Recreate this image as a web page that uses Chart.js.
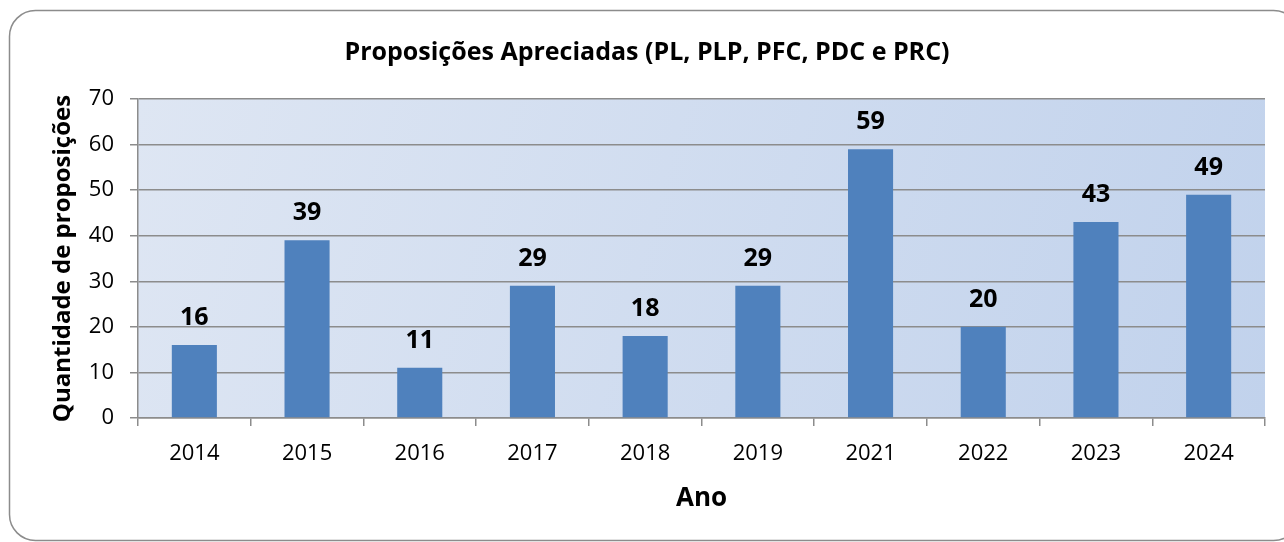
<!DOCTYPE html>
<html>
<head>
<meta charset="utf-8">
<script src="https://cdn.jsdelivr.net/npm/chart.js@4.4.0/dist/chart.umd.min.js"></script>
<style>
  html, body { margin: 0; padding: 0; background: #fff; }
  #wrap { width: 1284px; height: 542px; }
</style>
</head>
<body>
<div id="wrap"><canvas id="myChart" width="1284" height="542"></canvas></div>
<script>
var anos = ['2014', '2015', '2016', '2017', '2018', '2019', '2021', '2022', '2023', '2024'];
var quantidades = [16, 39, 11, 29, 18, 29, 59, 20, 43, 49];
var tituloGrafico = 'Proposições Apreciadas (PL, PLP, PFC, PDC e PRC)';
var tituloY = 'Quantidade de proposições';
var tituloX = 'Ano';

var FONTE = "'Open Sans', 'Liberation Sans', sans-serif";

// moldura arredondada + fundo em degrade da area do grafico
var fundoPlugin = {
  id: 'fundo',
  beforeDraw: function(chart) {
    var c = chart.ctx, a = chart.chartArea;
    c.save();
    c.fillStyle = '#fff';
    c.fillRect(0, 0, chart.width, chart.height);
    var x = 9.5, y = 10.5, w = 1290, h = 530, r = 26;
    c.beginPath();
    c.moveTo(x + r, y);
    c.lineTo(x + w - r, y);
    c.arcTo(x + w, y, x + w, y + r, r);
    c.lineTo(x + w, y + h - r);
    c.arcTo(x + w, y + h, x + w - r, y + h, r);
    c.lineTo(x + r, y + h);
    c.arcTo(x, y + h, x, y + h - r, r);
    c.lineTo(x, y + r);
    c.arcTo(x, y, x + r, y, r);
    c.closePath();
    c.strokeStyle = '#8c8c8c';
    c.lineWidth = 1.5;
    c.stroke();
    var g = c.createLinearGradient(a.left, a.top, a.right, a.bottom);
    g.addColorStop(0, '#dee6f3');
    g.addColorStop(1, '#c1d2ec');
    c.fillStyle = g;
    c.fillRect(a.left, a.top, a.right - a.left, a.bottom - a.top);
    c.restore();
  },
  afterDraw: function(chart) {
    var c = chart.ctx, a = chart.chartArea;
    c.save();
    c.fillStyle = '#000';
    c.textAlign = 'center';
    c.textBaseline = 'middle';
    c.font = 'bold 25px ' + FONTE;
    c.fillText(tituloGrafico, 647, 53);
    c.font = 'bold 26px ' + FONTE;
    c.fillText(tituloX, (a.left + a.right) / 2, 499);
    c.translate(63, (a.top + a.bottom) / 2);
    c.rotate(-Math.PI / 2);
    c.font = 'bold 24px ' + FONTE;
    c.fillText(tituloY, 0, 0);
    c.restore();

    // rotulos de dados
    var meta = chart.getDatasetMeta(0);
    c.save();
    c.fillStyle = '#000';
    c.font = 'bold 25px ' + FONTE;
    c.textAlign = 'center';
    c.textBaseline = 'alphabetic';
    meta.data.forEach(function(bar, i) {
      c.fillText(quantidades[i], bar.x, bar.y - 20);
    });
    c.restore();
  }
};

var ctx = document.getElementById('myChart').getContext('2d');
var myChart = new Chart(ctx, {
  type: 'bar',
  data: {
    labels: anos,
    datasets: [{
      data: quantidades,
      backgroundColor: '#4f81bd',
      borderWidth: 0,
      barPercentage: 0.4,
      categoryPercentage: 1.0
    }]
  },
  options: {
    responsive: false,
    animation: false,
    layout: { padding: { left: 0, right: 19, top: 99, bottom: 0 } },
    plugins: {
      legend: { display: false },
      tooltip: { enabled: false }
    },
    scales: {
      x: {
        offset: true,
        grid: {
          offset: true,
          drawOnChartArea: false,
          drawTicks: true,
          tickLength: 8,
          color: '#8c8c8c',
          lineWidth: 1.5
        },
        border: { color: '#8c8c8c', width: 1.5 },
        ticks: {
          color: '#000',
          font: { family: FONTE, size: 22 },
          padding: 15
        },
        afterFit: function(scale) { scale.height = 124; }
      },
      y: {
        min: 0,
        max: 70,
        ticks: {
          stepSize: 10,
          color: '#000',
          font: { family: FONTE, size: 22 },
          padding: 16
        },
        grid: {
          color: '#8c8c8c',
          lineWidth: 1.5,
          tickLength: 8
        },
        border: { color: '#8c8c8c', width: 1.5 },
        afterFit: function(scale) { scale.width = 138; }
      }
    }
  },
  plugins: [fundoPlugin]
});
</script>
</body>
</html>
